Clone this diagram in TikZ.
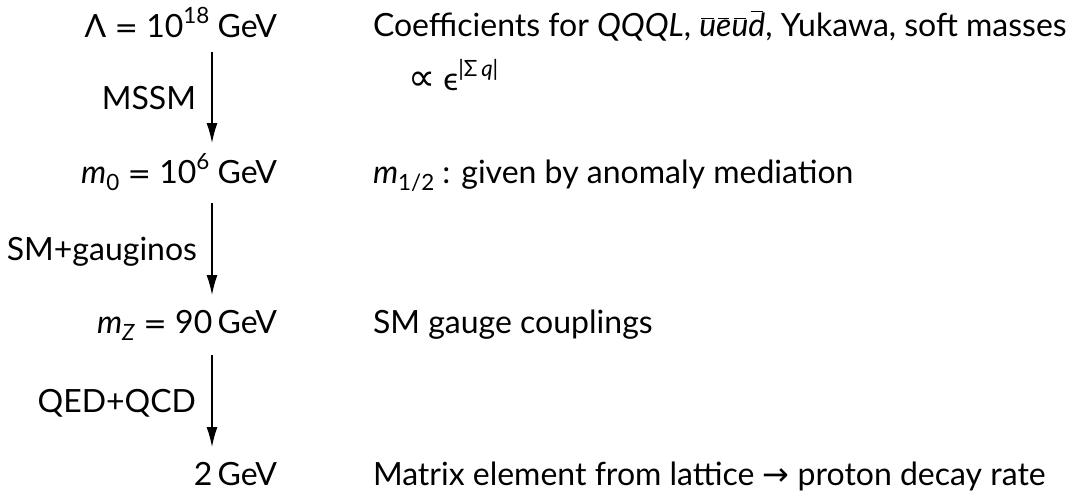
\documentclass[tikz,border=0pt]{standalone}
\usepackage{fontspec}
\setmainfont{Lato}
\newfontfamily\symf{DejaVu Sans}
\usetikzlibrary{arrows.meta}
\newcommand\sups[1]{\raisebox{0.42em}{\fontsize{22.4}{22.4}\selectfont #1}}
\newcommand\subs[1]{\raisebox{-0.22em}{\fontsize{22.4}{22.4}\selectfont #1}}
\newcommand\ovl[1]{\ensuremath{\mkern1.5mu\overline{\mkern-1.5mu\mbox{\itshape #1}\mkern-1.5mu}\mkern1.5mu}}
\newcommand\eqs{\hspace{0.26em}{\symf\fontsize{28}{28}\selectfont =}\hspace{0.26em}}
\begin{document}
\begin{tikzpicture}[x=1pt,y=1pt,
  every node/.style={inner sep=0pt, outer sep=0pt, font=\fontsize{32}{38}\selectfont},
  energy/.style={anchor=base east},
  desc/.style={anchor=base west},
  steplabel/.style={anchor=base east},
  flow/.style={line width=1.3pt, -{Latex[length=20pt,width=11pt]}}]
\useasboundingbox (0,0) rectangle (1073,-490);
% scales
\node[energy] (L1) at (277,-37) {Λ\eqs 10\sups{18} GeV};
\node[energy] (L2) at (277,-183) {\textit{m}\subs{0}\eqs 10\sups{6} GeV};
\node[energy] (L3) at (277,-333) {\textit{m}\subs{\textit{Z}}\eqs 90\,GeV};
\node[energy] (L4) at (277,-485) {2\,GeV};
% arrows
\coordinate (s1) at (212,-52);  \coordinate (e1) at (212,-143);
\coordinate (s2) at (212,-203); \coordinate (e2) at (212,-295);
\coordinate (s3) at (212,-355); \coordinate (e3) at (212,-447);
\draw[flow] (s1) -- (e1);
\draw[flow] (s2) -- (e2);
\draw[flow] (s3) -- (e3);
% step labels
\node[steplabel] (T1) at (196,-109) {MSSM};
\node[steplabel] (T2) at (197,-260) {SM+gauginos};
\node[steplabel] (T3) at (196,-412) {QED+QCD};
% descriptions
\node[desc] (D1) at (373,-36) {Coefficients for \textit{QQQL}, \ovl{u}\ovl{e}\ovl{u}\ovl{d}, Yukawa, soft masses};
\node[desc] (D1b) at (408,-90) {{\symf\fontsize{38}{38}\selectfont ∝} ϵ\sups{|Σ\,\textit{q}|}};
\node[desc] (D2) at (373,-183) {\textit{m}\subs{1/2} : given by anomaly mediation};
\node[desc] (D3) at (373,-333) {SM gauge couplings};
\node[desc] (D4) at (373,-485) {Matrix element from lattice {\symf\fontsize{32}{32}\selectfont →} proton decay rate};
\end{tikzpicture}
\end{document}
